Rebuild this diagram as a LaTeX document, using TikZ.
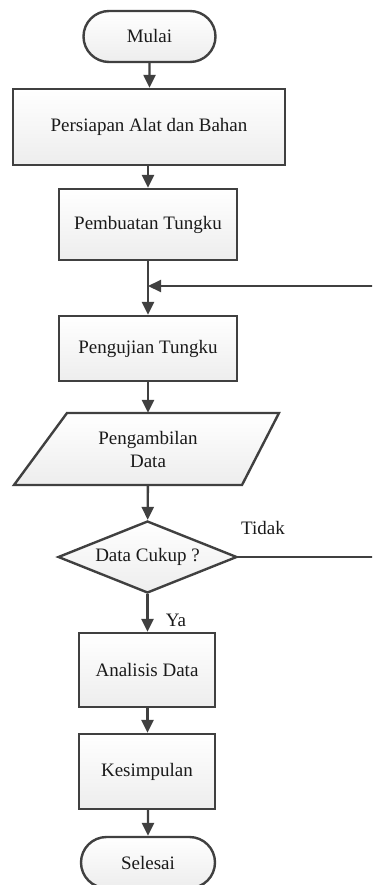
\documentclass[tikz,border=0pt]{standalone}
\usepackage{fontspec}
\setmainfont{Liberation Serif}
\usetikzlibrary{arrows.meta,shapes.geometric,shapes.misc}
\definecolor{ln}{HTML}{404040}
\definecolor{tx}{HTML}{1A1A1A}
\tikzset{
  base/.style={draw=ln, line width=2.4pt, top color=white, bottom color=gray!14, text=tx,
     font=\fontsize{19}{23}\selectfont, align=center, inner sep=2pt},
  procbox/.style={base, rectangle, minimum width=#1},
  term/.style={base, rounded rectangle, minimum width=136pt, minimum height=51pt},
  dec/.style={base, diamond, minimum width=179pt, minimum height=72pt, inner sep=1pt, aspect=2.5},
  flow/.style={draw=ln, line width=2.4pt, -{Triangle[length=13pt,width=12pt]}},
  back/.style={draw=ln, line width=2pt, -{Triangle[length=13pt,width=12pt]}},
  lbl/.style={text=tx, font=\fontsize{19}{23}\selectfont, inner sep=0pt}
}
\begin{document}
\begin{tikzpicture}[x=1pt,y=-1pt]
\useasboundingbox (0,0) rectangle (372,885);
\clip (0,0) rectangle (372,885);
\node[term] (start) at (149.5,36.5) {Mulai};
\node[procbox=272pt, minimum height=76pt] (p1) at (149,127) {Persiapan Alat dan Bahan};
\node[procbox=178pt, minimum height=71pt] (p2) at (148,224.5) {Pembuatan Tungku};
\node[procbox=178pt, minimum height=65pt] (p3) at (148,348.5) {Pengujian Tungku};
% parallelogram
\path[draw=ln, line width=2.4pt, top color=white, bottom color=gray!14]
  (67,413) -- (279,413) -- (242,485) -- (14,485) -- cycle;
\node[lbl, align=center, minimum height=72pt, minimum width=10pt] (data) at (148,449) {Pengambilan\\Data};
\node[dec] (dec) at (147.5,557) {Data Cukup ?};
\node[procbox=136pt, minimum height=74pt] (p4) at (147,670) {Analisis Data};
\node[procbox=136pt, minimum height=75pt] (p5) at (147,771.5) {Kesimpulan};
\node[term, minimum width=138pt] (end) at (148,862.5) {Selesai};
\coordinate (merge) at (148,286);
\coordinate (rt) at (380,557);
\draw[flow] (start) -- (p1.north -| start);
\draw[flow] (p1.south -| p2) -- (p2);
\draw[line width=2.4pt, draw=ln] (p2) -- (merge);
\draw[flow] (merge) -- (p3);
\draw[flow] (p3) -- (data);
\draw[flow] (data) -- (dec);
\draw[flow] (dec) -- (p4.north -| dec);
\draw[flow] (p4.south -| dec) -- (p5.north -| dec);
\draw[flow] (p5.south -| end) -- (end);
\draw[back] (dec.east) -- (rt) |- (merge);
\node[lbl] (tidak) at (263,528) {Tidak};
\node[lbl] (ya) at (176,620) {Ya};
\end{tikzpicture}
\end{document}
